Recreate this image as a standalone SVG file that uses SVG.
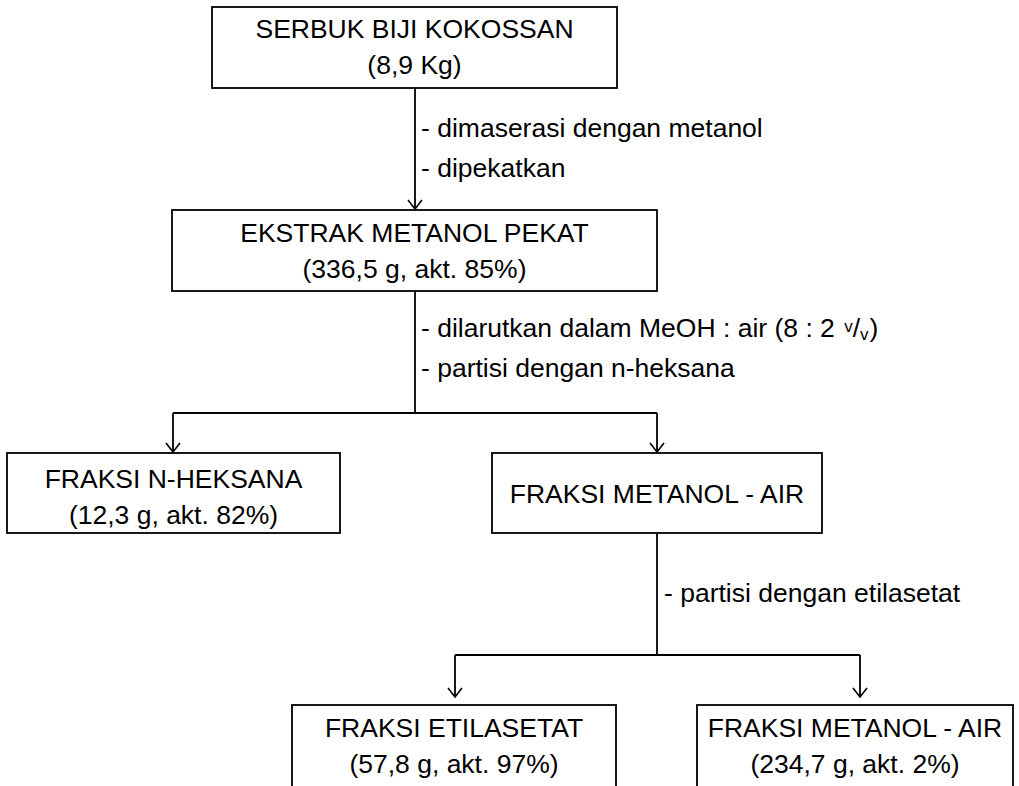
<svg xmlns="http://www.w3.org/2000/svg" width="1019" height="786" viewBox="0 0 1019 786">
<style>
.box{fill:#fff;stroke:#000;stroke-width:1.8}
.t{font-family:"Liberation Sans",Arial,sans-serif;font-size:26.5px;fill:#000;text-anchor:middle}
.l{font-family:"Liberation Sans",Arial,sans-serif;font-size:26.5px;fill:#000}
.c{fill:none;stroke:#000;stroke-width:1.8}
</style>
<defs>
<marker id="ah" markerWidth="11" markerHeight="16" viewBox="0 0 11 16" refX="10" refY="8" orient="auto" markerUnits="userSpaceOnUse">
<path d="M1,1 L10,8 L1,15" fill="none" stroke="#000" stroke-width="1.6"/>
</marker>
</defs>
<rect width="1019" height="786" fill="#fff"/>
<g id="connectors">
<line class="c" x1="415" y1="88" x2="415" y2="209" marker-end="url(#ah)"/>
<line class="c" x1="415" y1="291" x2="415" y2="413"/>
<line class="c" x1="173" y1="413" x2="657" y2="413"/>
<line class="c" x1="173" y1="413" x2="173" y2="452" marker-end="url(#ah)"/>
<line class="c" x1="657" y1="413" x2="657" y2="452" marker-end="url(#ah)"/>
<line class="c" x1="657" y1="533" x2="657" y2="655"/>
<line class="c" x1="455" y1="655" x2="860" y2="655"/>
<line class="c" x1="455" y1="655" x2="455" y2="697" marker-end="url(#ah)"/>
<line class="c" x1="860" y1="655" x2="860" y2="697" marker-end="url(#ah)"/>
</g>
<g id="labels">
<text class="l" x="421" y="137">- dimaserasi dengan metanol</text>
<text class="l" x="421" y="177">- dipekatkan</text>
<text class="l" x="421" y="337">- dilarutkan dalam MeOH : air (8 : 2 <tspan font-size="17" dx="2" dy="-5">v</tspan><tspan dy="5">/</tspan><tspan font-size="17" dy="3">v</tspan><tspan dx="1" dy="-3">)</tspan></text>
<text class="l" x="421" y="377">- partisi dengan n-heksana</text>
<text class="l" x="664" y="602">- partisi dengan etilasetat</text>
</g>
<g id="n1">
<rect class="box" x="212" y="7" width="405" height="81"/>
<text class="t" x="414.5" y="38">SERBUK BIJI KOKOSSAN</text>
<text class="t" x="414.5" y="74">(8,9 Kg)</text>
</g>
<g id="n2">
<rect class="box" x="172" y="210" width="485" height="81"/>
<text class="t" x="414.5" y="242">EKSTRAK METANOL PEKAT</text>
<text class="t" x="414.5" y="278">(336,5 g, akt. 85%)</text>
</g>
<g id="n3">
<rect class="box" x="7" y="453" width="333" height="80"/>
<text class="t" x="173.5" y="488">FRAKSI N-HEKSANA</text>
<text class="t" x="173.5" y="524">(12,3 g, akt. 82%)</text>
</g>
<g id="n4">
<rect class="box" x="492" y="453" width="330" height="80"/>
<text class="t" x="657" y="503">FRAKSI METANOL - AIR</text>
</g>
<g id="n5">
<rect class="box" x="292" y="705" width="324" height="100"/>
<text class="t" x="454" y="737">FRAKSI ETILASETAT</text>
<text class="t" x="454" y="773">(57,8 g, akt. 97%)</text>
</g>
<g id="n6">
<rect class="box" x="697" y="705" width="316" height="100"/>
<text class="t" x="855" y="737">FRAKSI METANOL - AIR</text>
<text class="t" x="855" y="773">(234,7 g, akt. 2%)</text>
</g>
</svg>
